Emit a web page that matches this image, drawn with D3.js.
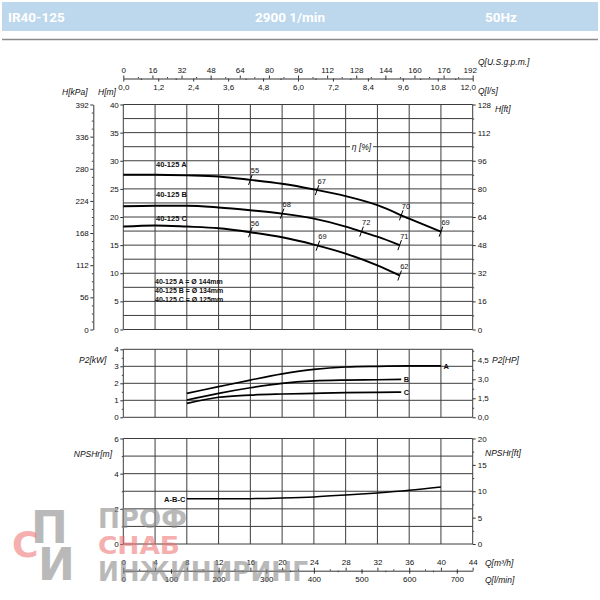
<!DOCTYPE html>
<html><head><meta charset="utf-8">
<script src="https://cdn.jsdelivr.net/npm/d3@7"></script>
<style>
html,body{margin:0;padding:0;background:#fff;}
svg{display:block;}
</style></head>
<body>
<svg id="c" width="600" height="600"></svg>
<script>
// ---------- DATA ----------
const headerTexts = ["IR40-125", "2900 1/min", "50Hz"];
const qGridM3h = [0,4,8,12,16,20,24,28,32,36,40,44];

// Head curves (Q m3/h, H m)
const headA_Q = [0,4,8,12,16,20,24,28,32,36,40];
const headA_H = [27.5,27.5,27.4,27.2,26.6,25.9,24.9,23.7,22.1,19.7,17.4];
const headB_Q = [0,4,8,12,16,20,24,28,30,32,34.8];
const headB_H = [21.9,22.0,22.0,21.7,21.2,20.6,19.7,18.3,17.4,16.5,15.0];
const headC_Q = [0,4,8,12,16,20,24,28,32,34.8];
const headC_H = [18.3,18.5,18.3,18.0,17.3,16.4,15.1,13.5,11.4,9.6];

// Efficiency marks
const effA_Q = [16,24.4,35,40];   const effA_L = ["55","67","70","69"];
const effB_Q = [20,30,34.8];      const effB_L = ["68","72","71"];
const effC_Q = [16,24.5,34.8];    const effC_L = ["56","69","62"];

const curveLabels = ["40-125 A","40-125 B","40-125 C"];
const curveLabelH = [28.9,23.6,19.3];
const legendLines = ["40-125 A = Ø 144mm","40-125 B = Ø 134mm","40-125 C = Ø 125mm"];

// Power curves (Q m3/h, P2 kW)
const p2A_Q = [8,12,16,20,24,28,32,36,40];
const p2A_P = [1.41,1.80,2.19,2.55,2.82,2.96,3.00,3.02,3.02];
const p2B_Q = [8,12,16,20,24,28,32,35];
const p2B_P = [1.02,1.41,1.74,2.00,2.14,2.19,2.21,2.23];
const p2C_Q = [8,12,16,20,24,28,32,35];
const p2C_P = [0.82,1.18,1.31,1.37,1.41,1.45,1.47,1.48];
const p2Labels = ["A","B","C"];

// NPSH curve (Q m3/h, NPSHr m)
const npsh_Q = [8,12,16,20,24,28,32,36,40];
const npsh_H = [2.57,2.57,2.58,2.62,2.68,2.78,2.90,3.05,3.24];

// Axis tick values
const gpmTicks = [0,16,32,48,64,80,96,112,128,144,160,176,192];
const lsTicks = [0,1.2,2.4,3.6,4.8,6.0,7.2,8.4,9.6,10.8,12.0];
const kpaTicks = [0,56,112,168,224,280,336,392];
const hmTicks = [0,5,10,15,20,25,30,35,40];
const hftTicks = [0,16,32,48,64,80,96,112,128];
const kwTicks = [0,1,2,3,4];
const hpTicks = [0,1.5,3.0,4.5];
const npshmTicks = [0,2,4,6];
const npshftTicks = [0,5,10,15,20];
const m3hTicks = [0,4,8,12,16,20,24,28,32,36,40,44];
const lminTicks = [0,100,200,300,400,500,600,700];

// ---------- DRAW ----------
const svg = d3.select("#c");
const FONT = "'Liberation Sans', Arial, sans-serif";
const GRID = "#3c3c3c";
const comma = f => (v => d3.format(f)(v).replace(".", ","));
const intF = d3.format("d");

const X0 = 123.3, X1 = 472.7;
const x = d3.scaleLinear().domain([0,44]).range([X0,X1]);
const xGpm = d3.scaleLinear().domain([0,192]).range([X0,X1]);
const xLs = d3.scaleLinear().domain([0,12]).range([X0,X1]);
const xLmin = d3.scaleLinear().domain([0,44*1000/60]).range([X0,X1]);

const yH = d3.scaleLinear().domain([0,40]).range([329.5,104.5]);
const yKpa = d3.scaleLinear().domain([0,392]).range([329.5,104.5]);
const yFt = d3.scaleLinear().domain([0,128]).range([329.5,104.5]);
const yP = d3.scaleLinear().domain([0,4]).range([417.3,349.3]);
const yHP = d3.scaleLinear().domain([0,4/0.7457]).range([417.3,349.3]);
const yN = d3.scaleLinear().domain([0,6]).range([544,438.5]);
const yNft = d3.scaleLinear().domain([0,20]).range([544,438.5]);

// Header
svg.append("rect").attr("x",2).attr("y",2).attr("width",596).attr("height",29).attr("fill","#bdd7ed");
svg.append("line").attr("x1",2).attr("x2",598).attr("y1",39.5).attr("y2",39.5).attr("stroke","#8a8a8a").attr("stroke-width",1.5);
const hx = [8, 290, 485], ha = ["start","middle","start"];
headerTexts.forEach((t,i)=>{
  svg.append("text").attr("x",hx[i]).attr("y",21.5).attr("text-anchor",ha[i])
    .attr("fill","#fff").attr("font-family","Roboto, 'DejaVu Sans', sans-serif").attr("font-weight","bold")
    .attr("font-size",13.5).text(t);
});

function styleAxis(g, size){
  g.attr("font-family", FONT).attr("font-size", size||8);
  g.selectAll("line").attr("stroke", "#333");
  g.selectAll("path.domain").attr("stroke","#333");
  g.selectAll("text").attr("fill","#111");
}
function minor(g, axisFn, scale, vals, size){
  const a = axisFn(scale).tickValues(vals).tickSize(size).tickFormat("");
  g.call(a); g.select("path.domain").remove();
  g.selectAll("line").attr("stroke","#444");
}

// Panel grid helper
function panel(ys, hvals){
  const g = svg.append("g");
  g.selectAll("line.v").data(qGridM3h).enter().append("line")
    .attr("x1",d=>x(d)).attr("x2",d=>x(d)).attr("y1",ys.range()[1]).attr("y2",ys.range()[0])
    .attr("stroke",GRID).attr("stroke-width",1);
  g.selectAll("line.h").data(hvals).enter().append("line")
    .attr("x1",X0).attr("x2",X1).attr("y1",d=>ys(d)).attr("y2",d=>ys(d))
    .attr("stroke",GRID).attr("stroke-width",1);
}
panel(yH, d3.range(0,40.01,2.5));
panel(yP, [0,1,2,3,4]);
panel(yN, [0,1,2,3,4,5,6]);

// Top axes
const gT = svg.append("g").attr("transform","translate(0,78.5)");
minor(gT.append("g"), d3.axisTop, xGpm, d3.range(8,192,16), 1.5);
minor(gT.append("g"), d3.axisBottom, xLs, d3.range(0.6,12,1.2), 1.5);
const gTa = gT.append("g").call(d3.axisTop(xGpm).tickValues(gpmTicks).tickSize(3).tickSizeOuter(0).tickPadding(3).tickFormat(intF));
styleAxis(gTa);
const gTb = gT.append("g").call(d3.axisBottom(xLs).tickValues(lsTicks).tickSize(3).tickSizeOuter(0).tickPadding(3).tickFormat(comma(".1f")));
gTb.select("path.domain").remove();
styleAxis(gTb);
gTa.selectAll(".tick text").filter(d=>d===192).attr("dx",-3);
gTb.selectAll(".tick text").filter(d=>d===12).attr("dx",-5);

// Bottom axes
const gB = svg.append("g").attr("transform","translate(0,570.7)");
minor(gB.append("g"), d3.axisTop, x, d3.range(2,44,4), 1.5);
minor(gB.append("g"), d3.axisBottom, xLmin, d3.range(50,733,50), 1.5);
const gBa = gB.append("g").call(d3.axisTop(x).tickValues(m3hTicks).tickSize(3).tickSizeOuter(0).tickPadding(3).tickFormat(intF));
styleAxis(gBa);
const gBb = gB.append("g").call(d3.axisBottom(xLmin).tickValues(lminTicks).tickSize(3).tickSizeOuter(0).tickPadding(3).tickFormat(intF));
gBb.select("path.domain").remove();
styleAxis(gBb);

// kPa axis
const gK = svg.append("g").attr("transform","translate(93.3,0)");
minor(gK.append("g"), d3.axisLeft, yKpa, d3.range(14,392,14).filter(v=>v%56!==0), 1.5);
const gKa = gK.append("g").call(d3.axisLeft(yKpa).tickValues(kpaTicks).tickSize(3).tickSizeOuter(0).tickPadding(1.5).tickFormat(intF));
styleAxis(gKa);

// H[m] axis
const gM = svg.append("g").attr("transform",`translate(${X0},0)`);
const gMa = gM.append("g").call(d3.axisLeft(yH).tickValues(hmTicks).tickSize(3).tickPadding(1.5).tickFormat(intF));
gMa.select("path.domain").remove(); styleAxis(gMa);
// H[ft] axis
const gF = svg.append("g").attr("transform",`translate(${X1},0)`);
minor(gF.append("g"), d3.axisRight, yFt, d3.range(8,128,16), 1.5);
const gFa = gF.append("g").call(d3.axisRight(yFt).tickValues(hftTicks).tickSize(3).tickPadding(2).tickFormat(intF));
gFa.select("path.domain").remove(); styleAxis(gFa);

// P2 axes
const gPl = svg.append("g").attr("transform",`translate(${X0},0)`);
minor(gPl.append("g"), d3.axisLeft, yP, [0.5,1.5,2.5,3.5], 1.5);
const gPla = gPl.append("g").call(d3.axisLeft(yP).tickValues(kwTicks).tickSize(3).tickPadding(1.5).tickFormat(intF));
gPla.select("path.domain").remove(); styleAxis(gPla);
const gPr = svg.append("g").attr("transform",`translate(${X1},0)`);
minor(gPr.append("g"), d3.axisRight, yHP, [0.75,2.25,3.75,5.25], 1.5);
const gPra = gPr.append("g").call(d3.axisRight(yHP).tickValues(hpTicks).tickSize(3).tickPadding(2).tickFormat(comma(".1f")));
gPra.select("path.domain").remove(); styleAxis(gPra);

// NPSH axes
const gNl = svg.append("g").attr("transform",`translate(${X0},0)`);
minor(gNl.append("g"), d3.axisLeft, yN, [1,3,5], 1.5);
const gNla = gNl.append("g").call(d3.axisLeft(yN).tickValues(npshmTicks).tickSize(3).tickPadding(1.5).tickFormat(intF));
gNla.select("path.domain").remove(); styleAxis(gNla);
const gNr = svg.append("g").attr("transform",`translate(${X1},0)`);
minor(gNr.append("g"), d3.axisRight, yNft, [2.5,7.5,12.5,17.5], 1.5);
const gNra = gNr.append("g").call(d3.axisRight(yNft).tickValues(npshftTicks).tickSize(3).tickPadding(2).tickFormat(intF));
gNra.select("path.domain").remove(); styleAxis(gNra);

// Axis titles
function title(t, xx, yy, anchor){
  svg.append("text").attr("x",xx).attr("y",yy).attr("text-anchor",anchor||"start")
    .attr("font-family",FONT).attr("font-style","italic").attr("font-size",8.5).attr("fill","#111").text(t);
}
title("Q[U.S.g.p.m.]", 478, 64.5);
title("Q[l/s]", 478, 93.5);
title("H[kPa]", 62, 95);
title("H[m]", 98, 95);
title("H[ft]", 495, 112);
title("P2[kW]", 79, 363);
title("P2[HP]", 492, 363);
title("NPSHr[m]", 112, 457, "end");
title("NPSHr[ft]", 485, 456);
title("Q[m³/h]", 485, 566);
title("Q[l/min]", 485, 583);

// eta label with knockout
svg.append("rect").attr("x",350).attr("y",yH(32.5)-5).attr("width",23).attr("height",10).attr("fill","#fff");
svg.append("text").attr("x",361.5).attr("y",yH(32.5)+3).attr("text-anchor","middle")
  .attr("font-family",FONT).attr("font-style","italic").attr("font-size",8.5).attr("fill","#111").text("η [%]");

// Curves
function curve(qs, vs, ys, w){
  const pts = qs.map((q,i)=>[q, vs[i]]);
  svg.append("path").datum(pts)
    .attr("d", d3.line().x(d=>x(d[0])).y(d=>ys(d[1])).curve(d3.curveMonotoneX))
    .attr("fill","none").attr("stroke","#000").attr("stroke-width",w);
}
curve(headA_Q, headA_H, yH, 1.9);
curve(headB_Q, headB_H, yH, 1.9);
curve(headC_Q, headC_H, yH, 1.9);

function interp(qs, vs, q){
  for(let i=0;i<qs.length-1;i++){
    if(q>=qs[i] && q<=qs[i+1]){ const t=(q-qs[i])/(qs[i+1]-qs[i]); return vs[i]+t*(vs[i+1]-vs[i]); }
  }
  return vs[vs.length-1];
}
function marks(qs, ls, cq, ch){
  qs.forEach((q,i)=>{
    const px = x(q), py = yH(interp(cq, ch, q));
    svg.append("line").attr("x1",px-1.8).attr("y1",py+5).attr("x2",px+1.8).attr("y2",py-5)
      .attr("stroke","#000").attr("stroke-width",1);
    svg.append("text").attr("x",px+0.5).attr("y",py-6.5).attr("font-family",FONT)
      .attr("font-size",7.5).attr("fill","#111").text(ls[i]);
  });
}
marks(effA_Q, effA_L, headA_Q, headA_H);
marks(effB_Q, effB_L, headB_Q, headB_H);
marks(effC_Q, effC_L, headC_Q, headC_H);

curveLabels.forEach((t,i)=>{
  svg.append("text").attr("x",156).attr("y",yH(curveLabelH[i])).attr("font-family",FONT)
    .attr("font-weight","bold").attr("font-size",7.5).attr("fill","#111").text(t);
});
legendLines.forEach((t,i)=>{
  svg.append("text").attr("x",155).attr("y",284+i*9.2).attr("font-family",FONT)
    .attr("font-weight","bold").attr("font-size",7).attr("fill","#111").text(t);
});

// P2
curve(p2A_Q, p2A_P, yP, 1.7);
curve(p2B_Q, p2B_P, yP, 1.7);
curve(p2C_Q, p2C_P, yP, 1.7);
const p2Ends = [[p2A_Q,p2A_P],[p2B_Q,p2B_P],[p2C_Q,p2C_P]];
p2Ends.forEach((c,i)=>{
  const q = c[0][c[0].length-1], v = c[1][c[1].length-1];
  svg.append("text").attr("x",x(q)+2.5).attr("y",yP(v)+2.8).attr("font-family",FONT)
    .attr("font-weight","bold").attr("font-size",7.5).attr("fill","#111").text(p2Labels[i]);
});

// NPSH
curve(npsh_Q, npsh_H, yN, 1.5);
svg.append("text").attr("x",x(npsh_Q[0])-1.5).attr("y",yN(npsh_H[0])+2.8).attr("text-anchor","end")
  .attr("font-family",FONT).attr("font-weight","bold").attr("font-size",7.5).attr("fill","#111").text("A-B-C");

// Watermark
const wm = svg.append("g").attr("font-family","'DejaVu Sans', sans-serif").attr("font-weight","bold");
wm.append("text").attr("x",98).attr("y",528).attr("textLength",89).attr("lengthAdjust","spacingAndGlyphs")
  .attr("font-size",26).attr("fill","#8c8c8c").attr("opacity",0.6).text("ПРОФ");
wm.append("text").attr("x",98).attr("y",554).attr("textLength",82).attr("lengthAdjust","spacingAndGlyphs")
  .attr("font-size",24).attr("fill","#ee6f6f").attr("opacity",0.55).text("СНАБ");
wm.append("text").attr("x",98).attr("y",581).attr("textLength",210).attr("lengthAdjust","spacingAndGlyphs")
  .attr("font-size",26).attr("fill","#8c8c8c").attr("opacity",0.6).text("ИНЖИНИРИНГ");
wm.append("text").attr("x",31).attr("y",543).attr("font-size",44).attr("fill","#8c8c8c").attr("opacity",0.6).text("П");
wm.append("text").attr("x",12).attr("y",557).attr("font-size",36).attr("fill","#ee6f6f").attr("opacity",0.55).text("С");
wm.append("text").attr("x",38).attr("y",580).attr("font-size",44).attr("fill","#8c8c8c").attr("opacity",0.6).text("И");
</script>
</body></html>
